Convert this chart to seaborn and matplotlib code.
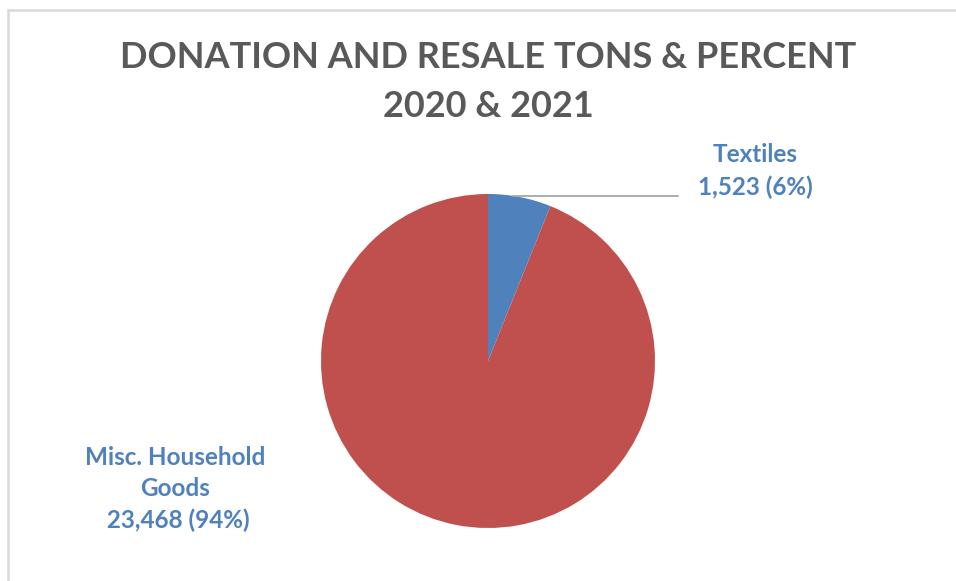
import matplotlib
matplotlib.use("Agg")
import matplotlib.pyplot as plt
import seaborn as sns
from matplotlib.lines import Line2D

categories = ["Textiles", "Misc. Household Goods"]
tons = [1523, 23468]
label_texts = ["Textiles\n1,523 (6%)", "Misc. Household\nGoods\n 23,468 (94%)"]
title_text = "DONATION AND RESALE TONS & PERCENT\n2020 & 2021"
colors = ["#4F81BD", "#C0504D"]

sns.set_theme(style="white")
plt.rcParams["font.family"] = ["Lato", "DejaVu Sans"]

W, H = 956, 581
fig = plt.figure(figsize=(W / 100, H / 100), dpi=100)
fig.patch.set_facecolor("white")

cx, cy, r = 488, 361, 167
ax = fig.add_axes([(cx - r) / W, (H - cy - r) / H, 2 * r / W, 2 * r / H])
ax.pie(tons, colors=colors, startangle=90, counterclock=False, radius=1,
       wedgeprops=dict(linewidth=0))
ax.set_xlim(-1, 1)
ax.set_ylim(-1, 1)
ax.set_aspect("equal")
ax.axis("off")

def px(x, y):
    return ((x - cx) / r, (cy - y) / r)

# leader line for Textiles
x0, y0 = px(513, 196)
x1, y1 = px(678, 196)
ax.plot([x0, x1], [y0, y1], color="#A6A6A6", lw=1.3, clip_on=False)

lx, ly = px(755, 171)
ax.text(lx, ly, label_texts[0], ha="center", va="center", color="#4F81BD",
        fontsize=17.5, fontweight="bold", linespacing=1.45, clip_on=False)
lx, ly = px(175, 489)
ax.text(lx, ly, label_texts[1], ha="center", va="center", color="#4F81BD",
        fontsize=17.5, fontweight="bold", linespacing=1.45, clip_on=False)

fig.text(488 / W, 1 - 82 / H, title_text, ha="center", va="center",
         color="#595959", fontsize=26, fontweight="bold", linespacing=1.6)

# chart border (left and top visible)
fig.add_artist(Line2D([8 / W, 8 / W], [0, 1 - 10 / H], transform=fig.transFigure,
                      color="#D9D9D9", lw=1.8))
fig.add_artist(Line2D([8 / W, 1], [1 - 10 / H, 1 - 10 / H], transform=fig.transFigure,
                      color="#D9D9D9", lw=1.8))

fig.savefig("out.png", dpi=100, facecolor="white")
